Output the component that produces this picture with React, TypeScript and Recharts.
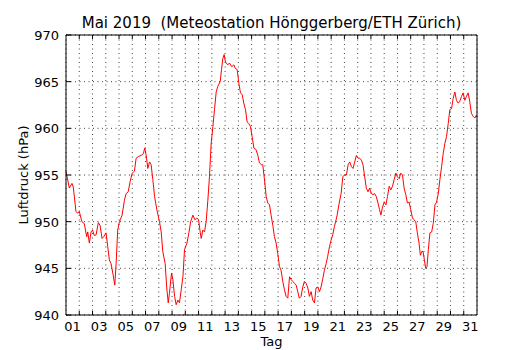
import { LineChart, Line, XAxis, YAxis, CartesianGrid } from "recharts";

// Tag im Mai (0 = 1. Mai 00:00) und Luftdruck in hPa
const days = [
  0.0, 0.25, 0.45, 0.55, 0.75, 0.88, 1.0, 1.2, 1.38, 1.56, 1.64, 1.76, 1.89, 2.0, 2.14, 2.27, 2.44, 2.57, 2.72, 2.85,
  3.02, 3.15, 3.27, 3.4, 3.53, 3.68, 3.78, 3.9, 4.03, 4.23, 4.41, 4.53, 4.69, 4.84, 4.99, 5.16, 5.29, 5.49, 5.67, 5.84,
  5.94, 6.05, 6.17, 6.3, 6.42, 6.55, 6.68, 6.85, 7.05, 7.18, 7.3, 7.48, 7.6, 7.71, 7.8, 7.96, 8.06, 8.19, 8.31, 8.44,
  8.56, 8.69, 8.82, 8.94, 9.12, 9.27, 9.4, 9.57, 9.72, 9.87, 10.0, 10.13, 10.2, 10.32, 10.45, 10.57, 10.7, 10.82, 10.95, 11.08,
  11.2, 11.33, 11.45, 11.63, 11.73, 11.83, 11.93, 12.03, 12.2, 12.33, 12.5, 12.66, 12.78, 12.91, 13.04, 13.16, 13.29, 13.41, 13.54, 13.66,
  13.79, 13.91, 14.04, 14.17, 14.34, 14.47, 14.59, 14.74, 14.84, 14.97, 15.1, 15.22, 15.35, 15.47, 15.6, 15.72, 15.85, 15.97, 16.1, 16.22,
  16.35, 16.48, 16.6, 16.73, 16.86, 16.98, 17.1, 17.23, 17.36, 17.48, 17.6, 17.73, 17.86, 17.98, 18.11, 18.24, 18.36, 18.49, 18.61, 18.74,
  18.86, 18.99, 19.12, 19.24, 19.37, 19.49, 19.62, 19.74, 19.87, 19.99, 20.12, 20.25, 20.37, 20.45, 20.58, 20.75, 20.88, 21.0, 21.15, 21.28,
  21.4, 21.53, 21.65, 21.78, 21.9, 22.03, 22.15, 22.28, 22.4, 22.53, 22.65, 22.78, 22.9, 23.03, 23.15, 23.28, 23.4, 23.53, 23.65, 23.75,
  23.88, 24.0, 24.13, 24.25, 24.38, 24.5, 24.63, 24.75, 24.88, 25.0, 25.13, 25.25, 25.38, 25.5, 25.63, 25.75, 25.88, 26.0, 26.13, 26.25,
  26.38, 26.5, 26.63, 26.73, 26.83, 26.93, 27.03, 27.13, 27.23, 27.33, 27.45, 27.58, 27.7, 27.83, 27.95, 28.08, 28.2, 28.33, 28.45, 28.58,
  28.7, 28.83, 28.95, 29.08, 29.2, 29.33, 29.45, 29.58, 29.7, 29.83, 29.95, 30.08, 30.2, 30.33, 30.45, 30.58, 30.7, 30.83, 30.95, 31.0,
];

const pressure = [
  955.4, 953.6, 954.1, 953.7, 951.1, 950.9, 951.1, 950.0, 949.8, 948.4, 948.9, 947.7, 948.9, 949.1, 948.5, 948.6, 949.9, 949.6, 948.2, 948.4,
  948.8, 947.3, 945.9, 945.5, 944.5, 943.2, 945.5, 949.1, 950.0, 950.7, 952.3, 953.0, 953.2, 954.3, 955.2, 955.4, 956.8, 957.0, 957.1, 957.3,
  957.9, 957.1, 955.7, 956.4, 956.1, 954.5, 952.7, 951.3, 950.0, 948.9, 946.8, 945.5, 942.9, 941.3, 942.3, 944.5, 943.8, 942.0, 941.1, 941.6,
  941.3, 942.7, 944.1, 947.0, 947.7, 948.8, 950.0, 950.7, 950.2, 950.4, 950.2, 948.8, 948.2, 949.1, 948.9, 950.0, 952.3, 954.8, 958.4, 960.2,
  962.0, 963.9, 964.5, 965.0, 966.3, 967.5, 967.9, 967.1, 966.8, 967.0, 966.6, 966.8, 966.4, 966.3, 964.8, 963.8, 963.6, 962.7, 962.0, 960.7,
  960.5, 960.2, 959.1, 957.9, 957.7, 957.1, 956.3, 956.1, 956.1, 954.5, 952.7, 952.0, 951.8, 950.7, 949.6, 948.4, 947.7, 946.6, 945.2, 944.8,
  943.6, 942.7, 942.0, 941.8, 944.1, 943.8, 943.6, 943.4, 943.2, 942.5, 941.8, 942.0, 943.0, 943.6, 943.4, 942.9, 942.0, 942.5, 941.6, 941.3,
  942.9, 943.0, 942.5, 943.0, 943.9, 944.8, 945.5, 946.3, 947.3, 948.0, 948.6, 949.5, 950.2, 950.7, 951.8, 953.0, 954.8, 955.0, 955.0, 956.1,
  956.4, 955.9, 955.7, 956.4, 957.1, 956.8, 956.8, 956.6, 956.1, 954.8, 953.6, 953.2, 953.6, 953.0, 952.9, 953.0, 952.7, 952.0, 951.3, 950.7,
  951.6, 952.1, 951.8, 952.7, 953.8, 953.4, 953.8, 954.5, 955.2, 954.8, 954.6, 955.2, 955.0, 953.6, 952.9, 952.0, 952.1, 951.3, 950.4, 950.2,
  950.0, 948.8, 947.7, 946.4, 946.8, 946.8, 945.9, 945.0, 945.2, 947.0, 948.8, 948.9, 949.8, 951.8, 952.1, 953.0, 954.5, 955.9, 957.3, 958.4,
  959.1, 960.5, 962.0, 962.1, 963.2, 963.9, 963.0, 962.7, 962.9, 963.4, 963.8, 963.0, 963.4, 963.8, 962.9, 961.6, 961.3, 961.1, 961.4, 961.2,
];

const dayLabels = ["01", "03", "05", "07", "09", "11", "13", "15", "17", "19", "21", "23", "25", "27", "29", "31"];
const dayBounds = [1, 2, 3, 4, 5, 6, 7, 8, 9, 10, 11, 12, 13, 14, 15, 16, 17, 18, 19, 20, 21, 22, 23, 24, 25, 26, 27, 28, 29, 30];
const pressureTicks = [940, 945, 950, 955, 960, 965, 970];

const data = days.map((d, i) => ({ day: d, p: pressure[i] }));
// labels sit in the middle of their day
const labelPos = dayLabels.map((l) => Number(l) - 0.5);
const bottomTicks = [...dayBounds, ...labelPos].sort((a, b) => a - b);

const FONT = "'DejaVu Sans', sans-serif";

function BottomTick(props: any) {
  const { x, y, payload } = props;
  const v = payload.value;
  if (Number.isInteger(v)) {
    return <line x1={x} y1={y} x2={x} y2={y - 4} stroke="#000" strokeWidth={1} />;
  }
  const i = labelPos.indexOf(v);
  return (
    <text x={x} y={y + 16} textAnchor="middle" fontSize={13} fill="#000" fontFamily={FONT}>
      {dayLabels[i]}
    </text>
  );
}

function TopTick(props: any) {
  const { x, y } = props;
  return <line x1={x} y1={y} x2={x} y2={y + 4} stroke="#000" strokeWidth={1} />;
}

function LeftTick(props: any) {
  const { x, y, payload } = props;
  return (
    <g>
      <line x1={x} y1={y} x2={x + 5} y2={y} stroke="#000" strokeWidth={1} />
      <text x={x - 7} y={y + 5} textAnchor="end" fontSize={13} fill="#000" fontFamily={FONT}>
        {payload.value}
      </text>
    </g>
  );
}

function RightTick(props: any) {
  const { x, y } = props;
  return <line x1={x} y1={y} x2={x - 5} y2={y} stroke="#000" strokeWidth={1} />;
}

export default function App() {
  return (
    <div style={{ position: "absolute", left: 0, top: 0, width: 530, height: 350, background: "#fff", fontFamily: FONT }}>
      <div
        style={{ position: "absolute", left: 0, width: 543, top: 14, textAlign: "center", fontSize: 15, whiteSpace: "pre", lineHeight: "18px" }}
      >
        Mai 2019  (Meteostation Hönggerberg/ETH Zürich)
      </div>
      <div style={{ position: "absolute", left: 0, width: 543, top: 334, textAlign: "center", fontSize: 13, lineHeight: "16px" }}>
        Tag
      </div>
      <div
        style={{
          position: "absolute",
          left: 24,
          top: 175,
          fontSize: 13,
          lineHeight: "16px",
          whiteSpace: "nowrap",
          transform: "translate(-50%, -50%) rotate(-90deg)",
        }}
      >
        Luftdruck (hPa)
      </div>
      <LineChart width={530} height={350} data={data} margin={{ top: 34, right: 52, bottom: 0, left: 0 }}>
        <CartesianGrid xAxisId="top" yAxisId="left" stroke="#000" strokeDasharray="1 3.5" strokeWidth={1} strokeOpacity={0.75} />
        <XAxis
          xAxisId="bottom"
          dataKey="day"
          type="number"
          domain={[0, 31]}
          ticks={bottomTicks}
          interval={0}
          height={35}
          tickSize={0}
          tickMargin={0}
          tickLine={false}
          axisLine={{ stroke: "#000", strokeWidth: 1 }}
          tick={<BottomTick />}
        />
        <XAxis
          xAxisId="top"
          orientation="top"
          dataKey="day"
          type="number"
          domain={[0, 31]}
          ticks={dayBounds}
          interval={0}
          height={1}
          tickSize={0}
          tickMargin={0}
          tickLine={false}
          axisLine={{ stroke: "#000", strokeWidth: 1 }}
          tick={<TopTick />}
        />
        <YAxis
          yAxisId="left"
          type="number"
          domain={[940, 970]}
          ticks={pressureTicks}
          interval={0}
          width={66}
          tickSize={0}
          tickMargin={0}
          tickLine={false}
          axisLine={{ stroke: "#000", strokeWidth: 1 }}
          tick={<LeftTick />}
        />
        <YAxis
          yAxisId="right"
          orientation="right"
          type="number"
          domain={[940, 970]}
          ticks={pressureTicks}
          interval={0}
          width={1}
          tickSize={0}
          tickMargin={0}
          tickLine={false}
          axisLine={{ stroke: "#000", strokeWidth: 1 }}
          tick={<RightTick />}
        />
        <Line
          xAxisId="bottom"
          yAxisId="left"
          type="linear"
          dataKey="p"
          stroke="#ff0000"
          strokeWidth={1}
          dot={false}
          isAnimationActive={false}
        />
      </LineChart>
    </div>
  );
}
